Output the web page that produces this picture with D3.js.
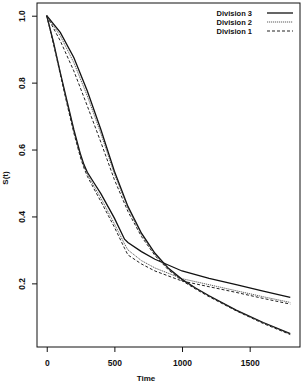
<!DOCTYPE html>
<html>
<head>
<meta charset="utf-8">
<script src="https://cdn.jsdelivr.net/npm/d3@7/dist/d3.min.js"></script>
<style>
  body { margin: 0; background: #fff; }
  svg text { font-family: "Liberation Sans", Arial, sans-serif; font-weight: bold; fill: #111; }
</style>
</head>
<body>
<svg id="chart" width="304" height="384"></svg>
<script>
// Division labels (legend order)
const divisions = ['Division 3', 'Division 2', 'Division 1'];

// Steep-start curves
const timesA = [0, 50, 100, 150, 200, 250, 275, 300, 350, 400, 500, 575, 600, 700, 800, 1000, 1200, 1400, 1600, 1800];
const div3A = [1, 0.92, 0.83, 0.745, 0.66, 0.585, 0.555, 0.532, 0.5, 0.468, 0.395, 0.332, 0.322, 0.295, 0.272, 0.237, 0.215, 0.196, 0.177, 0.158];
const div2A = [1, 0.92, 0.83, 0.74, 0.655, 0.58, 0.55, 0.527, 0.49, 0.455, 0.378, 0.318, 0.3, 0.268, 0.246, 0.214, 0.196, 0.178, 0.16, 0.143];
const div1A = [1, 0.915, 0.825, 0.735, 0.65, 0.575, 0.545, 0.52, 0.482, 0.445, 0.368, 0.305, 0.285, 0.258, 0.237, 0.207, 0.19, 0.173, 0.155, 0.138];

// Slow-start curves
const timesB = [0, 100, 200, 300, 400, 500, 600, 700, 800, 900, 1000, 1100, 1200, 1400, 1600, 1800];
const div3B = [1, 0.95, 0.875, 0.775, 0.66, 0.535, 0.43, 0.35, 0.29, 0.245, 0.212, 0.186, 0.163, 0.12, 0.083, 0.05];
const div2B = [1, 0.94, 0.86, 0.76, 0.648, 0.527, 0.425, 0.346, 0.287, 0.243, 0.211, 0.185, 0.162, 0.119, 0.082, 0.049];
const div1B = [1, 0.925, 0.835, 0.73, 0.622, 0.51, 0.415, 0.34, 0.283, 0.24, 0.208, 0.183, 0.16, 0.118, 0.08, 0.047];

const xTicks = [0, 500, 1000, 1500];
const yTicks = [0.2, 0.4, 0.6, 0.8, 1.0];

const styles = {
  'Division 3': { width: 1.3, dash: null, color: '#111' },
  'Division 2': { width: 0.8, dash: '1.2,0.8', color: '#333' },
  'Division 1': { width: 1.0, dash: '3,2', color: '#222' }
};

const series = [
  { name: 'Division 3', t: timesA, s: div3A },
  { name: 'Division 2', t: timesA, s: div2A },
  { name: 'Division 1', t: timesA, s: div1A },
  { name: 'Division 3', t: timesB, s: div3B },
  { name: 'Division 2', t: timesB, s: div2B },
  { name: 'Division 1', t: timesB, s: div1B }
];

const svg = d3.select('#chart');
const L = 37, R = 300, T = 3, B = 347;

const x = d3.scaleLinear().domain([-72, 1872]).range([L, R]);
const y = d3.scaleLinear().domain([0.0098, 1.038]).range([B, T]);

// box
svg.append('rect')
  .attr('x', L).attr('y', T).attr('width', R - L).attr('height', B - T)
  .attr('fill', 'none').attr('stroke', '#111').attr('stroke-width', 1);

// axes
const xAxis = svg.append('g').attr('transform', `translate(0,${B})`)
  .call(d3.axisBottom(x).tickValues(xTicks).tickSize(5).tickPadding(8).tickFormat(d3.format('d')));
const yAxis = svg.append('g').attr('transform', `translate(${L},0)`)
  .call(d3.axisLeft(y).tickValues(yTicks).tickSize(5).tickPadding(0).tickFormat(d3.format('.1f')));
[xAxis, yAxis].forEach(g => {
  g.select('.domain').remove();
  g.selectAll('line').attr('stroke', '#111');
  g.selectAll('text').attr('font-size', 8.5).attr('font-family', 'Liberation Sans, Arial, sans-serif')
    .attr('font-weight', 'bold').attr('fill', '#111');
});
yAxis.selectAll('text')
  .attr('x', null).attr('dy', null)
  .attr('text-anchor', 'middle')
  .attr('transform', 'translate(-12,0) rotate(-90)');

// axis titles
svg.append('text').attr('x', 146).attr('y', 381).attr('text-anchor', 'middle')
  .attr('font-size', 8).text('Time');
svg.append('text').attr('transform', 'translate(8,178) rotate(-90)').attr('text-anchor', 'middle')
  .attr('font-size', 8).text('S(t)');

// curves
const line = d3.line().x(d => x(d[0])).y(d => y(d[1]));
series.forEach(sr => {
  const st = styles[sr.name];
  svg.append('path')
    .datum(sr.t.map((t, i) => [t, sr.s[i]]))
    .attr('d', line)
    .attr('fill', 'none')
    .attr('stroke', st.color)
    .attr('stroke-width', st.width)
    .attr('stroke-dasharray', st.dash);
});

// legend
divisions.forEach((name, i) => {
  const st = styles[name];
  const yy = 13 + i * 9;
  svg.append('text').attr('x', 252).attr('y', yy + 3).attr('text-anchor', 'end')
    .attr('font-size', 7.5).text(name);
  svg.append('line').attr('x1', 267).attr('x2', 293).attr('y1', yy).attr('y2', yy)
    .attr('stroke', st.color).attr('stroke-width', st.width)
    .attr('stroke-dasharray', st.dash);
});
</script>
</body>
</html>
